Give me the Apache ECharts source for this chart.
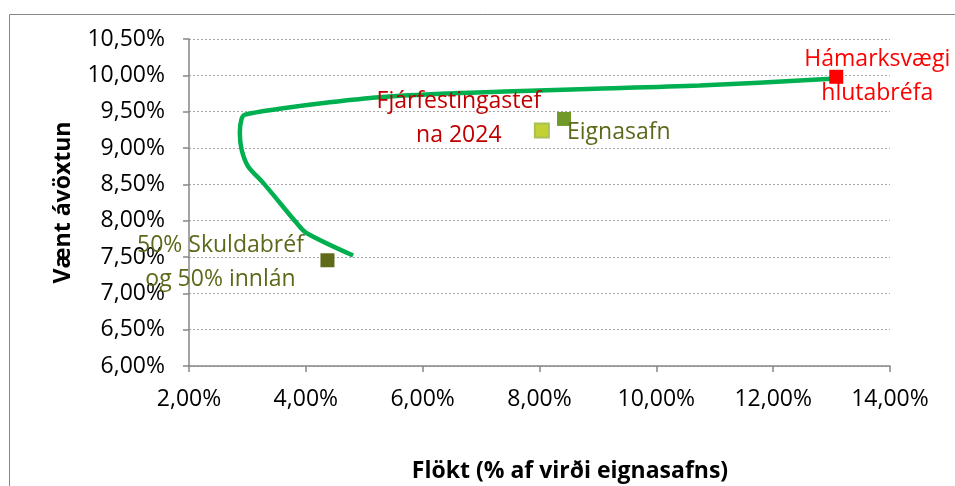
<!DOCTYPE html>
<html>
<head>
<meta charset="utf-8">
<script src="https://cdn.jsdelivr.net/npm/echarts@6/dist/echarts.min.js"></script>
<style>
  html, body { margin: 0; padding: 0; background: #fff; }
  #chart { width: 955px; height: 486px; }
</style>
</head>
<body>
<div id="chart"></div>
<script>
// efficient frontier (risk %, return %)
const frontierX = [4.81, 4.01, 3.84, 3.55, 3.27, 3.01, 2.90, 2.87, 2.90, 2.96, 3.55, 4.41, 5.27, 6.41, 7.55, 8.69, 10.74, 13.08];
const frontierY = [7.52, 7.83, 7.97, 8.25, 8.52, 8.75, 8.98, 9.21, 9.40, 9.46, 9.54, 9.63, 9.70, 9.75, 9.78, 9.81, 9.86, 9.955];

// portfolios
const pointNames = ["Hámarksvægi\nhlutabréfa", "Fjárfestingastef\nna 2024", "Eignasafn", "50% Skuldabréf\nog 50% innlán"];
const pointX = [13.08, 8.04, 8.42, 4.37];
const pointY = [9.98, 9.24, 9.40, 7.455];
const pointColors = ["#ff0000", "#c3d135", "#71992a", "#5f6a1a"];
const labelColors = ["#ff0000", "#c00000", "#5a6a1a", "#5a6a1a"];

const xTicks = [2, 14, 2]; // min, max, interval
const yTicks = [6, 10.5, 0.5];

const fmt = (v) => v.toFixed(2).replace(".", ",") + "%";
const font = "Open Sans";

const labelOffsets = [[41, 0], [-83, -12], [3, 14], [-107, 2]];
const labelAlign = ["center", "center", "left", "center"];

const chart = echarts.init(document.getElementById("chart"));

chart.setOption({
  animation: false,
  textStyle: { fontFamily: font },
  title: {
    text: "Flökt (% af virði eignasafns)",
    left: 565,
    top: 455,
    textAlign: "center",
    textStyle: { fontFamily: font, fontSize: 23, fontWeight: "bold", color: "#000" },
  },
  graphic: [
    {
      type: "rect",
      shape: { x: 9.5, y: 14.5, width: 1000, height: 600 },
      style: { fill: "none", stroke: "#868686", lineWidth: 1 },
      silent: true,
    },
  ],
  grid: { left: 189, right: 65, top: 39, bottom: 120 },
  xAxis: {
    type: "value",
    min: xTicks[0],
    max: xTicks[1],
    interval: xTicks[2],
    axisLine: { lineStyle: { color: "#868686", width: 1.5 } },
    axisTick: { show: true, length: 6, lineStyle: { color: "#868686", width: 1.5 } },
    axisLabel: { formatter: fmt, color: "#000", fontSize: 23, fontFamily: font, margin: 22 },
    splitLine: { show: false },
  },
  yAxis: {
    type: "value",
    min: yTicks[0],
    max: yTicks[1],
    interval: yTicks[2],
    name: "Vænt ávöxtun",
    nameLocation: "middle",
    nameGap: 114,
    nameTextStyle: { fontFamily: font, fontSize: 23, fontWeight: "bold", color: "#000" },
    axisLine: { show: true, lineStyle: { color: "#868686", width: 1.5 } },
    axisTick: { show: true, length: 6, lineStyle: { color: "#868686", width: 1.5 } },
    axisLabel: { formatter: fmt, color: "#000", fontSize: 23, fontFamily: font, margin: 24 },
    splitLine: { show: true, lineStyle: { color: "#a6a6a6", type: [2, 2], width: 1 } },
  },
  series: [
    {
      type: "line",
      data: frontierX.map((x, i) => [x, frontierY[i]]),
      smooth: 0.3,
      showSymbol: false,
      lineStyle: { color: "#00b050", width: 4.5 },
      z: 2,
    },
    {
      type: "scatter",
      symbol: "rect",
      symbolSize: 14,
      z: 3,
      data: pointNames.map((name, i) => ({
        name: name,
        value: [pointX[i], pointY[i]],
        itemStyle: {
          color: pointColors[i],
          opacity: 1,
          borderColor: i === 1 ? "#a9c15a" : pointColors[i],
          borderWidth: i === 1 ? 2 : 0,
        },
        label: {
          show: true,
          position: "inside",
          offset: labelOffsets[i],
          align: labelAlign[i],
          formatter: "{b}",
          color: labelColors[i],
          fontSize: 23,
          fontFamily: font,
          lineHeight: 34,
        },
      })),
    },
  ],
});
</script>
</body>
</html>
